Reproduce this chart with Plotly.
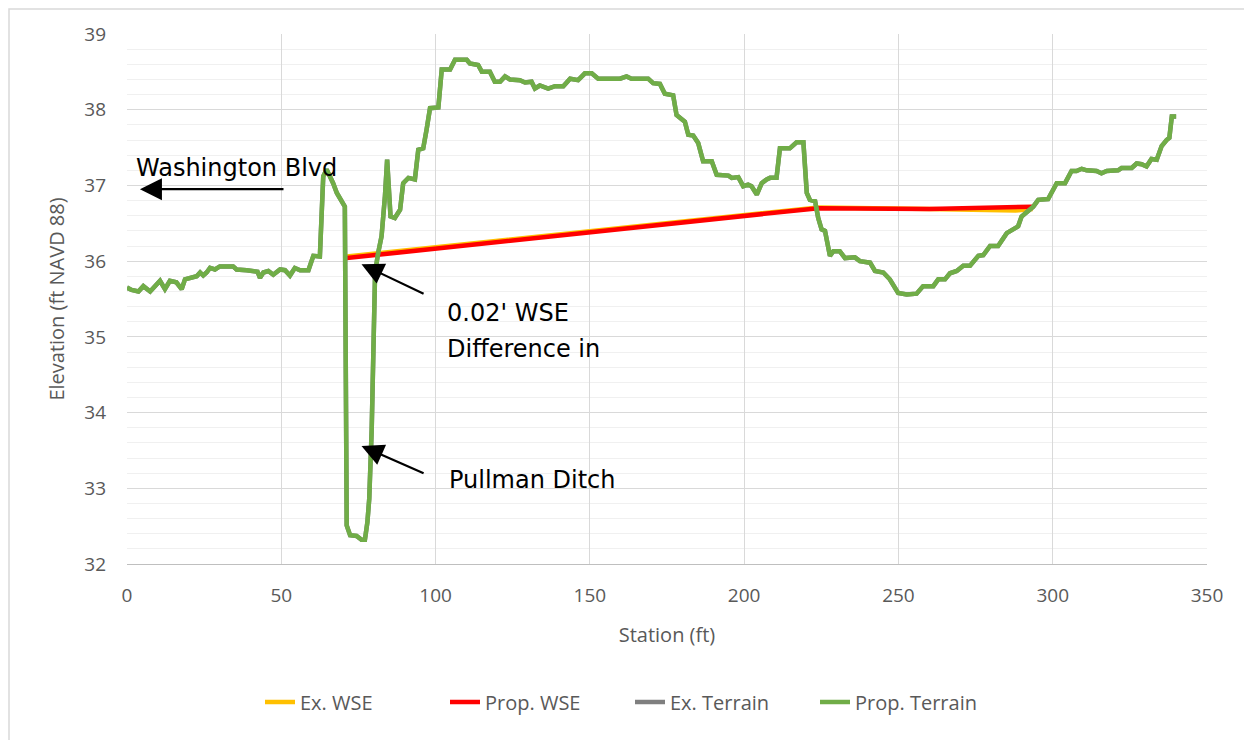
import plotly.graph_objects as go

# Terrain profile (ft)
station = [0, 1.5, 3.7, 5.3, 7.5, 8.5, 10.7, 12.3, 13.9, 16.0, 17.7, 18.8, 21.0, 22.6, 23.7,
           24.7, 25.8, 26.9, 28.5, 30.1, 34.4, 35.5, 38.8, 40.9, 42.3, 43.1, 44.2, 45.8, 47.4,
           49.6, 51.2, 52.8, 54.4, 56.1, 58.8, 60.4, 62.5, 63.6, 64.7, 66.8, 68.0, 70.6, 71.2,
           72.3, 74.4, 76.0, 77.1, 77.9, 78.5, 79.3, 80.4, 81.4, 82.5, 83.6, 84.3, 85.4, 86.8,
           88.5, 89.5, 91.2, 93.3, 94.4, 96.0, 97.1, 98.2, 100.9, 102.0, 104.7, 106.3, 110.1,
           111.1, 113.8, 115.0, 117.6, 119.2, 120.9, 122.5, 124.1, 127.3, 129.0, 131.1, 132.2,
           133.8, 136.5, 138.7, 141.4, 143.6, 146.2, 148.4, 150.6, 152.7, 159.8, 161.9, 163.5,
           168.9, 170.5, 172.7, 174.3, 177.0, 178.1, 180.8, 181.9, 183.5, 185.1, 186.7, 189.5,
           191.1, 194.9, 196.0, 198.1, 199.7, 201.3, 202.4, 204.1, 205.7, 207.3, 208.4, 210.5,
           211.6, 214.8, 217.0, 219.2, 220.3, 221.3, 223.0, 224.0, 225.1, 226.2, 227.8, 228.9,
           231.0, 232.7, 235.9, 237.5, 240.8, 242.4, 245.1, 247.2, 249.9, 252.7, 255.9, 258.0,
           261.3, 262.9, 265.1, 266.7, 268.9, 271.0, 273.2, 275.9, 277.5, 279.7, 282.3, 285.1,
           287.8, 288.8, 289.9, 292.1, 293.7, 295.3, 298.5, 301.3, 304.0, 306.1, 307.7, 309.4,
           311.0, 314.2, 315.8, 317.5, 321.2, 322.3, 325.6, 327.2, 328.8, 330.4, 332.0, 333.7,
           335.3, 336.9, 337.8, 338.6, 340.0]
terrain = [35.65, 35.62, 35.60, 35.67, 35.60, 35.65, 35.74, 35.63, 35.74, 35.72, 35.63, 35.76,
           35.78, 35.80, 35.85, 35.81, 35.85, 35.91, 35.89, 35.93, 35.93, 35.89, 35.88, 35.86,
           35.86, 35.78, 35.85, 35.87, 35.82, 35.89, 35.88, 35.81, 35.91, 35.88, 35.88, 36.07,
           36.06, 37.12, 37.21, 37.03, 36.90, 36.72, 32.51, 32.38, 32.37, 32.32, 32.32, 32.55,
           32.86, 33.78, 35.85, 36.11, 36.33, 36.86, 37.34, 36.59, 36.57, 36.68, 37.03, 37.10,
           37.08, 37.47, 37.49, 37.74, 38.02, 38.03, 38.53, 38.53, 38.66, 38.66, 38.61, 38.59,
           38.50, 38.50, 38.37, 38.37, 38.44, 38.40, 38.39, 38.36, 38.37, 38.28, 38.32, 38.28,
           38.31, 38.31, 38.41, 38.39, 38.48, 38.48, 38.41, 38.41, 38.44, 38.41, 38.41, 38.35,
           38.34, 38.21, 38.19, 37.93, 37.84, 37.67, 37.66, 37.56, 37.32, 37.32, 37.14, 37.13,
           37.10, 37.11, 36.99, 37.01, 36.99, 36.88, 37.03, 37.08, 37.10, 37.10, 37.49, 37.49,
           37.57, 37.57, 36.90, 36.81, 36.79, 36.57, 36.42, 36.40, 36.07, 36.13, 36.13, 36.04,
           36.05, 36.00, 35.98, 35.87, 35.85, 35.76, 35.58, 35.56, 35.57, 35.67, 35.67, 35.76,
           35.76, 35.84, 35.87, 35.94, 35.94, 36.07, 36.08, 36.20, 36.20, 36.37, 36.44, 36.46,
           36.59, 36.66, 36.72, 36.81, 36.82, 37.03, 37.03, 37.19, 37.19, 37.22, 37.20, 37.19,
           37.16, 37.19, 37.20, 37.23, 37.23, 37.29, 37.28, 37.25, 37.35, 37.34, 37.52, 37.60,
           37.63, 37.91, 37.91]

# Water surface elevations
ex_wse_station = [71.2, 224.0, 260.0, 288.0, 293.5]
ex_wse = [36.06, 36.71, 36.69, 36.67, 36.69]
prop_wse_station = [71.2, 224.0, 260.0, 293.5]
prop_wse = [36.04, 36.70, 36.69, 36.72]

TICK = dict(family="Open Sans", size=19, color="#595959")
TITLE = dict(family="Open Sans", size=20, color="#595959")

fig = go.Figure()
fig.add_trace(go.Scatter(x=ex_wse_station, y=ex_wse, mode="lines", name="Ex. WSE",
                         line=dict(color="#FFC000", width=4.5)))
fig.add_trace(go.Scatter(x=prop_wse_station, y=prop_wse, mode="lines", name="Prop. WSE",
                         line=dict(color="#FF0000", width=4.5)))
fig.add_trace(go.Scatter(x=station, y=terrain, mode="lines", name="Ex. Terrain",
                         line=dict(color="#7F7F7F", width=4.5)))
fig.add_trace(go.Scatter(x=station, y=terrain, mode="lines", name="Prop. Terrain",
                         line=dict(color="#70AD47", width=4.5)))

ann_font = dict(family="DejaVu Sans", size=24, color="black")
arrows = [
    # head x, head y, tail x, tail y
    (4.2, 36.95, 51.2, 36.95),
    (76.0, 35.96, 96.6, 35.56),
    (76.0, 33.56, 96.6, 33.19),
]
for hx, hy, tx, ty in arrows:
    fig.add_annotation(x=hx, y=hy, ax=tx, ay=ty, xref="x", yref="y", axref="x", ayref="y",
                       text="", showarrow=True, arrowhead=2, arrowsize=2, arrowwidth=2.2,
                       arrowcolor="black")

fig.add_annotation(x=2.3, y=37.23, text="Washington Blvd", showarrow=False,
                   xanchor="left", yanchor="middle", font=ann_font)
fig.add_annotation(x=103.0, y=35.31, text="0.02' WSE", showarrow=False,
                   xanchor="left", yanchor="middle", font=ann_font)
fig.add_annotation(x=103.0, y=34.84, text="Difference in", showarrow=False,
                   xanchor="left", yanchor="middle", font=ann_font)
fig.add_annotation(x=103.6, y=33.11, text="Pullman Ditch", showarrow=False,
                   xanchor="left", yanchor="middle", font=ann_font)

# chart-area border along the figure's top and left edges
fig.add_shape(type="rect", xref="paper", yref="paper",
              x0=(1 - 119) / 1080, x1=(1260 - 119) / 1080,
              y0=(556 - 750) / 530, y1=(556 - 1) / 530,
              line=dict(color="#D9D9D9", width=1.5), layer="above")

fig.update_layout(
    width=1244, height=732,
    margin=dict(l=119, r=45, t=26, b=176),
    plot_bgcolor="white", paper_bgcolor="white",
    font=dict(family="Open Sans", color="#595959"),
    showlegend=True,
    legend=dict(orientation="h", xref="container", yref="container",
                x=0.5, y=0.052, xanchor="center", yanchor="middle",
                font=dict(family="Open Sans", size=20, color="#595959"),
                entrywidth=140, entrywidthmode="pixels",
                traceorder="normal"),
    xaxis=dict(range=[0, 350], dtick=50, showgrid=True, gridcolor="#D9D9D9", gridwidth=1,
               zeroline=False, showline=True, linecolor="#BFBFBF", linewidth=1,
               tickfont=TICK, ticks="", ticklabelstandoff=14,
               title=dict(text="Station (ft)", font=TITLE, standoff=21)),
    yaxis=dict(range=[32, 39], dtick=1, showgrid=True, gridcolor="#D9D9D9", gridwidth=1,
               zeroline=False, showline=False,
               minor=dict(dtick=0.2, showgrid=True, gridcolor="#F0F0F0", gridwidth=1),
               tickfont=TICK, ticks="", ticklabelstandoff=20,
               title=dict(text="Elevation (ft NAVD 88)", font=TITLE, standoff=14)),
)

fig.write_html("out.html")
